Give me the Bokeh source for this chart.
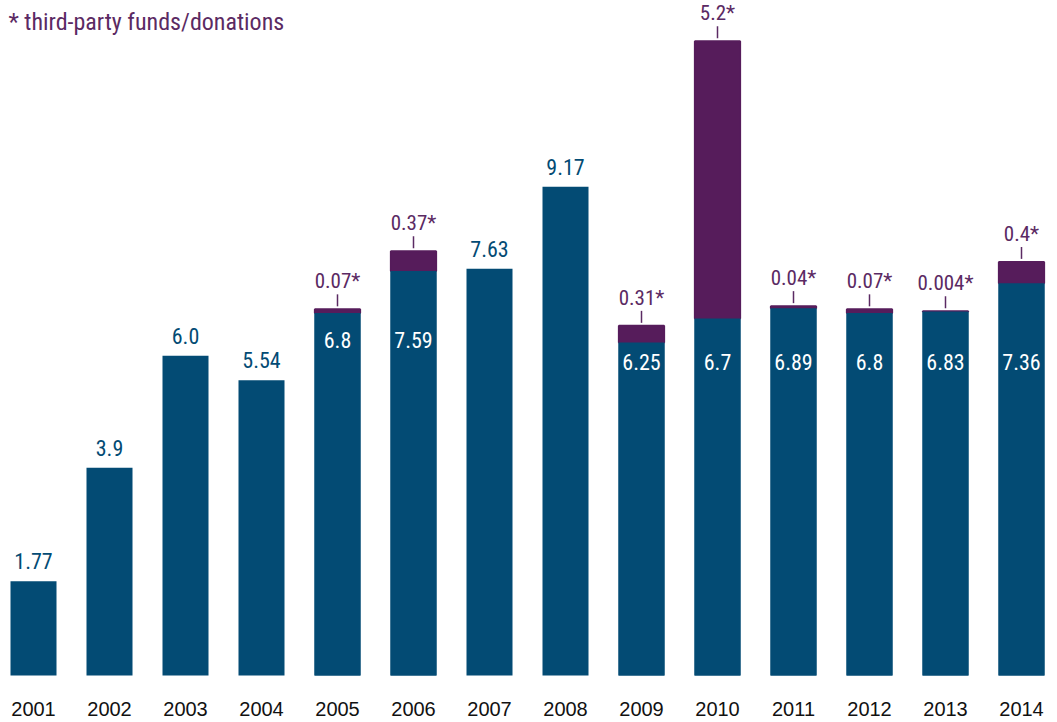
from bokeh.plotting import figure
from bokeh.models import ColumnDataSource, Label
from bokeh.core.properties import value
from bokeh.embed import file_html
from bokeh.resources import INLINE

years = ["2001", "2002", "2003", "2004", "2005", "2006", "2007",
         "2008", "2009", "2010", "2011", "2012", "2013", "2014"]
base = [1.77, 3.9, 6.0, 5.54, 6.8, 7.59, 7.63, 9.17, 6.25, 6.7, 6.89, 6.8, 6.83, 7.36]
base_labels = ["1.77", "3.9", "6.0", "5.54", "6.8", "7.59", "7.63",
               "9.17", "6.25", "6.7", "6.89", "6.8", "6.83", "7.36"]
extra = [0, 0, 0, 0, 0.07, 0.37, 0, 0, 0.31, 5.2, 0.04, 0.07, 0.004, 0.4]
extra_labels = ["", "", "", "", "0.07*", "0.37*", "", "", "0.31*", "5.2*",
                "0.04*", "0.07*", "0.004*", "0.4*"]

BLUE = "#034b74"
PURPLE = "#561c5b"
PURPLE_TXT = "#5b2a63"
COND_NAME = "'Liberation Sans Narrow', 'Roboto Condensed', Roboto"
COND = value(COND_NAME)

W, H = 1057, 722
PX = 1 / 53.3          # data units per pixel (vertical)
x_pix0, x_step = 33, 76
xs = list(range(len(years)))

p = figure(width=W, height=H, output_backend="svg", toolbar_location=None,
           x_range=(-x_pix0 / x_step, (W - x_pix0) / x_step),
           y_range=(-(H - 675) * PX, 675 * PX),
           min_border=0)
p.axis.visible = False
p.grid.visible = False
p.outline_line_color = None
p.background_fill_color = "white"

# base bars
src = ColumnDataSource(dict(x=xs, top=base, lab=base_labels, year=years))
p.vbar(x="x", top="top", bottom=0, width=46 / x_step, source=src,
       fill_color=BLUE, line_color=None)

# stacked extra bars
ex_i = [i for i, e in enumerate(extra) if e > 0]
ex_src = ColumnDataSource(dict(
    x=[xs[i] for i in ex_i],
    bottom=[base[i] for i in ex_i],
    top=[base[i] + extra[i] for i in ex_i],
    lab=[extra_labels[i] for i in ex_i],
    inlab=[base_labels[i] for i in ex_i],
    iny=[6.3 if int(years[i]) <= 2006 else 5.88 for i in ex_i],
    l0=[base[i] + extra[i] + 3 * PX for i in ex_i],
    l1=[base[i] + extra[i] + 15 * PX for i in ex_i],
))
p.vbar(x="x", top="top", bottom="bottom", width=46 / x_step - 0.01, source=ex_src,
       fill_color=PURPLE, line_color=PURPLE, line_width=2)
p.vbar(x="x", top="bottom", bottom=0, width=46 / x_step, source=ex_src,
       fill_color=BLUE, line_color=None)

# leader lines + purple labels
p.segment(x0="x", x1="x", y0="l0", y1="l1", source=ex_src,
          line_color=PURPLE_TXT, line_width=1.5)
p.text(x="x", y="top", text="lab", source=ex_src, y_offset=-28,
       text_align="center", text_baseline="alphabetic",
       text_font=COND, text_font_size="21px", text_color=PURPLE_TXT)

# white inside labels
p.text(x="x", y="iny", text="inlab", source=ex_src,
       text_align="center", text_baseline="middle",
       text_font=COND, text_font_size="22px", text_color="white")

# blue labels above non-stacked bars
nb_i = [i for i, e in enumerate(extra) if e == 0]
nb_src = ColumnDataSource(dict(x=[xs[i] for i in nb_i], y=[base[i] for i in nb_i],
                               lab=[base_labels[i] for i in nb_i]))
p.text(x="x", y="y", text="lab", source=nb_src, y_offset=-20,
       text_align="center", text_baseline="alphabetic",
       text_font=COND, text_font_size="22px", text_color=BLUE)

# year labels
p.text(x="x", y=-33 * PX, text="year", source=src,
       text_align="center", text_baseline="middle",
       text_font=value("Liberation Sans"), text_font_size="20px",
       text_color="#111111")

# note
p.add_layout(Label(x=8, y=H - 21, x_units="screen", y_units="screen",
                   text="* third-party funds/donations", text_font=COND_NAME,
                   text_font_size="24px", text_color=PURPLE_TXT,
                   text_baseline="alphabetic"))

open("out.html", "w").write(file_html(p, INLINE))
